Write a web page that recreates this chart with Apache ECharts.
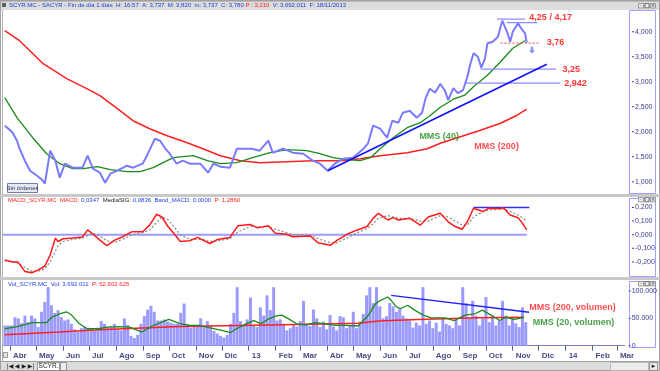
<!DOCTYPE html>
<html><head><meta charset="utf-8">
<script src="https://cdn.jsdelivr.net/npm/echarts@6/dist/echarts.min.js"></script>
<style>html,body{margin:0;padding:0;background:#fff}#c{width:660px;height:371px}</style>
</head><body><div id="c"></div>
<script>
// ---- tick labels / categories ----
const monthLabels = ['Abr','May','Jun','Jul','Ago','Sep','Oct','Nov','Dic','13','Feb','Mar','Abr','May','Jun','Jul','Ago','Sep','Oct','Nov','Dic','14','Feb','Mar'];
const priceTicks = [1,1.5,2,2.5,3,3.5,4];
const macdTicks = [-0.2,-0.1,0,0.1,0.2];
const volTicks = [0,50,100];

// ---- price panel (x = days since 1 Apr 2012) ----
const price = [[-6,2.12],[-1,2.05],[3,1.98],[8,1.82],[11,1.66],[17,1.42],[23,1.22],[31,1.12],[36,1.05],[40,0.96],[46,1.62],[52,1.42],[57,1.08],[63,1.36],[72,1.28],[83,1.28],[89,1.52],[95,1.26],[103,1.18],[109,0.98],[115,1.16],[123,1.22],[134,1.32],[141,1.28],[152,1.36],[158,1.56],[166,1.86],[172,1.82],[178,1.66],[183,1.56],[191,1.36],[198,1.42],[206,1.36],[218,1.36],[227,1.18],[233,1.36],[241,1.30],[252,1.28],[260,1.66],[267,1.66],[277,1.66],[286,1.62],[296,1.82],[301,1.58],[313,1.66],[324,1.58],[336,1.56],[347,1.42],[355,1.36],[364,1.22],[372,1.36],[382,1.46],[393,1.48],[405,1.66],[410,1.76],[416,2.12],[424,2.06],[432,1.88],[438,2.22],[445,2.18],[450,2.38],[458,2.42],[466,2.28],[472,2.38],[476,2.66],[481,2.86],[487,2.78],[493,2.96],[498,2.83],[502,2.63],[508,2.87],[513,2.77],[519,2.83],[524,3.10],[527,3.33],[531,3.57],[536,3.50],[540,3.28],[544,3.45],[547,3.77],[553,3.80],[559,3.90],[564,4.22],[570,3.97],[573,3.80],[576,4.00],[582,4.17],[587,4.03],[590,3.97],[592,3.78]];
const mms40 = [[-6,2.68],[8,2.28],[26,1.88],[42,1.56],[57,1.36],[72,1.26],[84,1.26],[100,1.30],[115,1.24],[134,1.20],[149,1.20],[164,1.28],[187,1.48],[210,1.52],[226,1.42],[241,1.36],[260,1.38],[278,1.48],[298,1.58],[317,1.64],[340,1.62],[355,1.56],[370,1.48],[386,1.44],[401,1.42],[413,1.48],[424,1.66],[439,1.88],[455,2.08],[470,2.18],[481,2.32],[493,2.49],[508,2.65],[521,2.73],[531,2.90],[547,3.13],[562,3.40],[576,3.67],[590,3.82]];
const mms200 = [[-6,4.02],[11,3.82],[38,3.36],[65,3.06],[88,2.86],[103,2.72],[123,2.46],[141,2.22],[160,2.06],[180,1.92],[203,1.78],[221,1.66],[241,1.52],[264,1.42],[286,1.38],[317,1.40],[347,1.42],[378,1.42],[401,1.46],[424,1.52],[455,1.58],[478,1.66],[493,1.77],[516,1.90],[539,2.03],[562,2.17],[581,2.33],[592,2.45]];
const trendPrice = [[364,1.22],[615,3.35]];
const level425 = [[558,4.25],[590,4.25]];
const level417 = [[569,4.18],[604,4.18]];
const level376 = [[562,3.77],[607,3.77]];
const level325 = [[539,3.25],[626,3.25]];
const level2942 = [[521,2.97],[630,2.97]];
const arrowPoint = [[598,3.63]];
const priceNotes = [
  {name:'4,25 / 4,17', value:[595,4.29], color:'#ff0000'},
  {name:'3,76', value:[615,3.78], color:'#ff0000'},
  {name:'3,25', value:[633,3.25], color:'#ff0000'},
  {name:'2,942', value:[635,2.96], color:'#ff0000'},
  {name:'MMS (40)', value:[469,1.91], color:'#1a8a1a'},
  {name:'MMS (200)', value:[532,1.71], color:'#ff2020'}
];

// ---- MACD panel ----
const macd = [[-6,-0.186],[3,-0.20],[9,-0.20],[17,-0.27],[25,-0.28],[32,-0.26],[40,-0.23],[46,-0.15],[52,-0.025],[55,-0.05],[61,-0.03],[72,-0.025],[83,-0.017],[89,0.035],[95,0.005],[103,-0.04],[111,-0.08],[120,-0.04],[129,-0.015],[140,0.022],[152,0.022],[160,0.07],[168,0.15],[174,0.13],[181,0.06],[189,0.0],[195,-0.05],[206,-0.045],[215,-0.02],[221,-0.04],[229,-0.065],[238,-0.035],[252,-0.02],[261,0.065],[275,0.075],[284,0.05],[296,0.065],[304,0.01],[317,0.003],[324,-0.015],[344,-0.01],[353,-0.06],[367,-0.078],[375,-0.04],[386,0.003],[398,0.035],[409,0.06],[416,0.12],[422,0.157],[433,0.108],[439,0.125],[445,0.108],[458,0.12],[470,0.07],[479,0.13],[493,0.157],[502,0.095],[510,0.06],[518,0.04],[524,0.095],[531,0.194],[542,0.17],[548,0.194],[562,0.19],[565,0.20],[573,0.145],[582,0.125],[587,0.085],[592,0.035]];
const mediaSig = [[-6,-0.19],[3,-0.20],[9,-0.21],[17,-0.24],[25,-0.27],[32,-0.27],[40,-0.25],[46,-0.20],[52,-0.12],[55,-0.08],[61,-0.05],[72,-0.035],[83,-0.025],[89,-0.005],[95,0.01],[103,-0.01],[111,-0.045],[120,-0.055],[129,-0.035],[140,0.0],[152,0.015],[160,0.035],[168,0.09],[174,0.13],[181,0.11],[189,0.05],[195,0.0],[206,-0.035],[215,-0.035],[221,-0.035],[229,-0.05],[238,-0.045],[252,-0.03],[261,0.02],[275,0.06],[284,0.06],[296,0.06],[304,0.04],[317,0.015],[324,0.0],[344,-0.005],[353,-0.03],[367,-0.06],[375,-0.06],[386,-0.025],[398,0.015],[409,0.045],[416,0.08],[422,0.12],[433,0.14],[439,0.13],[445,0.12],[458,0.12],[470,0.10],[479,0.10],[493,0.14],[502,0.13],[510,0.10],[518,0.07],[524,0.07],[531,0.13],[542,0.17],[548,0.18],[562,0.19],[565,0.19],[573,0.17],[582,0.145],[587,0.125],[592,0.10]];
const macdZero = [[-8,0],[592,0]];
const macdBand = [[531,0.2],[595,0.2]];

// ---- Volume panel (thousands of shares, x as above) ----
const volStartDay = -5.7, volStepDays = 3.82;
const volume = [37,37,37,52,50,41,55,43,55,50,34,62,80,107,74,60,65,52,46,48,40,30,26,32,35,33,30,27,33,45,40,34,35,40,30,28,50,38,18,14,20,40,54,66,73,62,46,46,48,44,42,40,40,
 60,77,40,33,37,35,50,36,45,38,27,22,18,15,20,40,60,107,45,38,48,88,37,34,70,55,92,65,107,46,48,40,28,32,38,35,45,82,40,36,66,50,34,44,30,56,35,28,54,52,32,37,62,32,
 43,58,92,107,78,107,72,50,54,78,72,62,68,55,50,46,33,42,37,107,40,46,32,42,26,50,40,37,32,50,37,107,78,50,82,55,37,50,89,43,55,37,46,82,55,37,50,41,34,70,43];
const volMms20 = [[-6,31],[8,35],[26,42],[42,42],[48,52],[57,58],[65,62],[71,56],[80,40],[89,31],[103,31],[111,34],[126,35],[138,34],[152,25],[164,36],[175,43],[183,48],[195,41],[206,37],[218,37],[229,33],[244,28],[254,24],[261,31],[272,40],[281,46],[289,40],[298,49],[306,54],[313,56],[321,49],[330,40],[340,38],[352,42],[363,40],[375,37],[386,37],[401,36],[413,56],[421,77],[427,83],[435,89],[439,83],[445,71],[450,68],[458,74],[466,65],[476,56],[485,51],[501,51],[512,46],[524,56],[535,58],[544,65],[554,56],[564,46],[571,52],[581,48],[592,52]];
const volMms200 = [[-6,20],[57,25],[103,29],[195,35],[298,38],[401,41],[424,45],[470,48],[539,51],[592,52]];
const volTrend = [[439,92],[598,61]];
const volNotes = [
  {name:'MMS (200, volumen)', value:[598,69], color:'#ff2020'},
  {name:'MMS (20, volumen)', value:[602,41.5], color:'#1a8a1a'}
];

// ---------------------------------------------------------------
const DAY0 = Date.UTC(2012,3,1);
const monthTicks = monthLabels.map((_,i)=> (Date.UTC(2012,3+i,1)-DAY0)/86400000);
const tickLabel = {}; monthTicks.forEach((d,i)=>tickLabel[d]=monthLabels[i]);
const volData = volume.map((v,i)=>[volStartDay+i*volStepDays, v]);
const FONT = 'Liberation Sans, Arial, sans-serif';
const chart = echarts.init(document.getElementById('c'), null, {renderer:'canvas', width:660, height:371});

function xAx(gi, show){
  return {type:'value', gridIndex:gi, min:-8, max:708, show:show,
    axisLine:{show:show, lineStyle:{color:'#7a7ac8', width:1}},
    axisTick:{show:show, customValues:monthTicks, length:5, lineStyle:{color:'#5a5aa0'}},
    axisLabel:{show:show, customValues:monthTicks, formatter:v=>tickLabel[v]||'', align:'left', padding:[0,0,0,3], margin:4,
      fontSize:8, fontWeight:'bold', color:'#4a4a8a', fontFamily:FONT},
    splitLine:{show:false}};
}
function yAx(gi, min, max, ticks, fmt){
  return {type:'value', gridIndex:gi, position:'right', min:min, max:max, offset:3,
    axisLine:{show:false},
    axisTick:{show:false},
    axisLabel:{customValues:ticks, formatter:v=>'{t|}{v|'+fmt(v)+'}', margin:1,
      rich:{t:{width:2, height:1, backgroundColor:'#3a3aa0'}, v:{fontSize:7, color:'#3a3a90', fontFamily:FONT, padding:[0,0,0,1]}}},
    splitLine:{show:false}};
}
const dec = v => (Math.abs(v)<1e-9?0:v).toFixed(3).replace('.',',');
function line(data, color, width, xi, extra){
  return Object.assign({type:'line', data:data, xAxisIndex:xi, yAxisIndex:xi, showSymbol:false, symbol:'none',
    lineStyle:{color:color, width:width}, silent:true, animation:false, z:3}, extra||{});
}
function notes(arr, xi){
  return {type:'scatter', xAxisIndex:xi, yAxisIndex:xi, symbolSize:0, animation:false, silent:true, z:10,
    data: arr.map(n=>({name:n.name, value:n.value, label:{color:n.color}})),
    label:{show:true, position:'right', distance:0, formatter:'{b}', fontSize:9, fontWeight:'bold', fontFamily:FONT}};
}

const graphics = [
  // title bar
  {type:'rect', shape:{x:0,y:0,width:660,height:10}, style:{fill:'#dcdcdc'}, z:0},
  {type:'rect', shape:{x:0,y:0,width:660,height:1.5}, style:{fill:'#9a9a9a'}, z:0},
  {type:'rect', shape:{x:2,y:3,width:4,height:4}, style:{fill:'#606060'}},
  {type:'text', x:9, y:5.5, style:{text:'{b|SCYR.MC - SACYR - Fin de día 1 días  H: 16:57  A: 3,737  M: 3,820  m: 3,737  C: 3,780 }{r|P : 3,210}{b|  V: 3.692.011  F: 18/11/2013}', verticalAlign:'middle',
    rich:{b:{fill:'#1e3fd0', fontSize:6, fontFamily:FONT}, r:{fill:'#ff2020', fontSize:6, fontFamily:FONT}}}},
  // outer frame
  {type:'rect', shape:{x:0.5,y:0.5,width:659,height:370}, style:{fill:null, stroke:'#a0a0a0', lineWidth:1}, z:0},
  {type:'line', shape:{x1:2.5,y1:10,x2:2.5,y2:361}, style:{stroke:'#b0b0b0', lineWidth:1}},
  // panel separators
  {type:'rect', shape:{x:0,y:194,width:660,height:3}, style:{fill:'#c8c8c8'}, z:0},
  {type:'rect', shape:{x:0,y:277,width:660,height:3}, style:{fill:'#c8c8c8'}, z:0},
  // right axis boxes
  {type:'rect', shape:{x:629.5,y:10.5,width:26,height:183}, style:{fill:null, stroke:'#a0a0ff', lineWidth:1}},
  {type:'rect', shape:{x:629.5,y:198.5,width:26,height:78}, style:{fill:null, stroke:'#a0a0ff', lineWidth:1}},
  {type:'rect', shape:{x:629.5,y:281.5,width:26,height:66}, style:{fill:null, stroke:'#a0a0ff', lineWidth:1}},
  // headers
  {type:'text', x:8, y:200.5, style:{text:'{r|MACD_SCYR.MC  MACD: }{b|0,0347  }{k|MediaSIG: }{b|0,0836  Band_MACD: 0,0000  }{r|P: 1,2860}', verticalAlign:'middle',
    rich:{b:{fill:'#2040e0', fontSize:6, fontFamily:FONT}, r:{fill:'#ff2020', fontSize:6, fontFamily:FONT}, k:{fill:'#202020', fontSize:6, fontFamily:FONT}}}},
  {type:'text', x:8, y:284, style:{text:'{b|Vol_SCYR.MC  Vol: 3.692.011  }{r|P: 52.602.625}', verticalAlign:'middle',
    rich:{b:{fill:'#2040e0', fontSize:6, fontFamily:FONT}, r:{fill:'#ff2020', fontSize:6, fontFamily:FONT}}}},
  // Sin ordenes button
  {type:'rect', shape:{x:7.5,y:183.5,width:30,height:9}, style:{fill:'#e4e8f0', stroke:'#7080a8', lineWidth:1}},
  {type:'text', x:22.5, y:188, style:{text:'Sin órdenes', fill:'#303050', fontSize:6, fontFamily:FONT, align:'center', verticalAlign:'middle'}},
  // x-axis strip & bottom bar
  {type:'line', shape:{x1:0,y1:361.5,x2:660,y2:361.5}, style:{stroke:'#a0a0a0'}},
  {type:'rect', shape:{x:1,y:362,width:658,height:8}, style:{fill:'#dcdcdc'}, z:0},
  {type:'rect', shape:{x:3.5,y:352.5,width:4,height:5}, style:{fill:'#e8e8e8', stroke:'#808080', lineWidth:0.8}},
  {type:'text', x:10, y:366.5, style:{text:'|◀', fill:'#202020', fontSize:6, fontFamily:'DejaVu Sans', align:'center', verticalAlign:'middle'}},
  {type:'text', x:17, y:366.5, style:{text:'◀', fill:'#202020', fontSize:6, fontFamily:'DejaVu Sans', align:'center', verticalAlign:'middle'}},
  {type:'text', x:24, y:366.5, style:{text:'▶', fill:'#202020', fontSize:6, fontFamily:'DejaVu Sans', align:'center', verticalAlign:'middle'}},
  {type:'text', x:31, y:366.5, style:{text:'▶|', fill:'#202020', fontSize:6, fontFamily:'DejaVu Sans', align:'center', verticalAlign:'middle'}},
  {type:'rect', shape:{x:37.5,y:362.5,width:22,height:8}, style:{fill:'#ffffff', stroke:'#808080', lineWidth:0.8}},
  {type:'text', x:48.5, y:366.5, style:{text:'SCYR.', fill:'#202020', fontSize:6.5, fontFamily:FONT, align:'center', verticalAlign:'middle'}},
  {type:'rect', shape:{x:60.5,y:362.5,width:6,height:8}, style:{fill:'#ececec', stroke:'#808080', lineWidth:0.8}},
  {type:'rect', shape:{x:610.5,y:362.5,width:38,height:8}, style:{fill:'#ececec', stroke:'#b0b0b0', lineWidth:0.8}},
  {type:'rect', shape:{x:649.5,y:362.5,width:8,height:8}, style:{fill:'#ececec', stroke:'#808080', lineWidth:0.8}},
  {type:'text', x:653.5, y:366.5, style:{text:'▸', fill:'#202020', fontSize:7, fontFamily:'DejaVu Sans', align:'center', verticalAlign:'middle'}}
];
// window buttons
[[3],[197],[281]].forEach(([y])=>{
  [638,644,650].forEach((x,i)=>{
    graphics.push({type:'rect', shape:{x:x+0.5,y:y+0.5,width:5,height:4.5}, style:{fill:'#e8e8e8', stroke:'#808080', lineWidth:0.7}});
    graphics.push({type:'text', x:x+3, y:y+3, style:{text:['-','□','×'][i], fill:'#202020', fontSize:5, fontFamily:'DejaVu Sans', align:'center', verticalAlign:'middle'}});
  });
});

const option = {
  backgroundColor:'#ffffff',
  animation:false,
  grid:[
    {left:3, right:32, top:10, height:184},
    {left:3, right:32, top:197, height:80},
    {left:3, right:32, top:287, height:61}
  ],
  xAxis:[xAx(0,false), xAx(1,false), xAx(2,true)],
  yAxis:[
    yAx(0, 0.754, 4.434, priceTicks, dec),
    yAx(1, -0.311, 0.277, macdTicks, dec),
    yAx(2, -4.2, 107.3, volTicks, v => v===0 ? '0' : v + '.000')
  ],
  series:[
    line(mms200, '#ff2020', 1.5, 0),
    line(mms40, '#1a8a1a', 1.3, 0),
    line(price, '#7a7aff', 2, 0, {z:4}),
    line(trendPrice, '#1010ff', 1.6, 0, {z:5}),
    line(level425, '#8c8cff', 1.3, 0),
    line(level417, '#8c8cff', 1.3, 0),
    line(level376, '#ff6060', 1.2, 0, {lineStyle:{color:'#ff6060', width:1.2, type:[2,2]}}),
    line(level325, '#8c8cff', 1.3, 0),
    line(level2942, '#8c8cff', 1.3, 0),
    {type:'scatter', xAxisIndex:0, yAxisIndex:0, data:arrowPoint, silent:true, animation:false,
      symbol:'path://M3,0 L7,0 L7,5 L10,5 L5,10 L0,5 L3,5 Z', symbolSize:[6,7], itemStyle:{color:'#7080e0'}},
    notes(priceNotes, 0),
    line(macdZero, '#9c9cff', 2, 1, {z:2}),
    line(macdBand, '#3030ff', 1.5, 1),
    line(mediaSig, '#888888', 1.2, 1, {lineStyle:{color:'#888888', width:1.2, type:[2,2]}}),
    line(macd, '#ff1a1a', 1.5, 1, {z:4}),
    {type:'bar', xAxisIndex:2, yAxisIndex:2, data:volData, barWidth:3, silent:true, animation:false,
      itemStyle:{color:'#9a9aff'}, z:2},
    line(volMms200, '#ff2020', 1.5, 2),
    line(volMms20, '#1a8a1a', 1.3, 2, {z:4}),
    line(volTrend, '#2020ff', 1.5, 2, {z:5}),
    notes(volNotes, 2)
  ],
  graphic: graphics
};
chart.setOption(option);
</script>
</body></html>
